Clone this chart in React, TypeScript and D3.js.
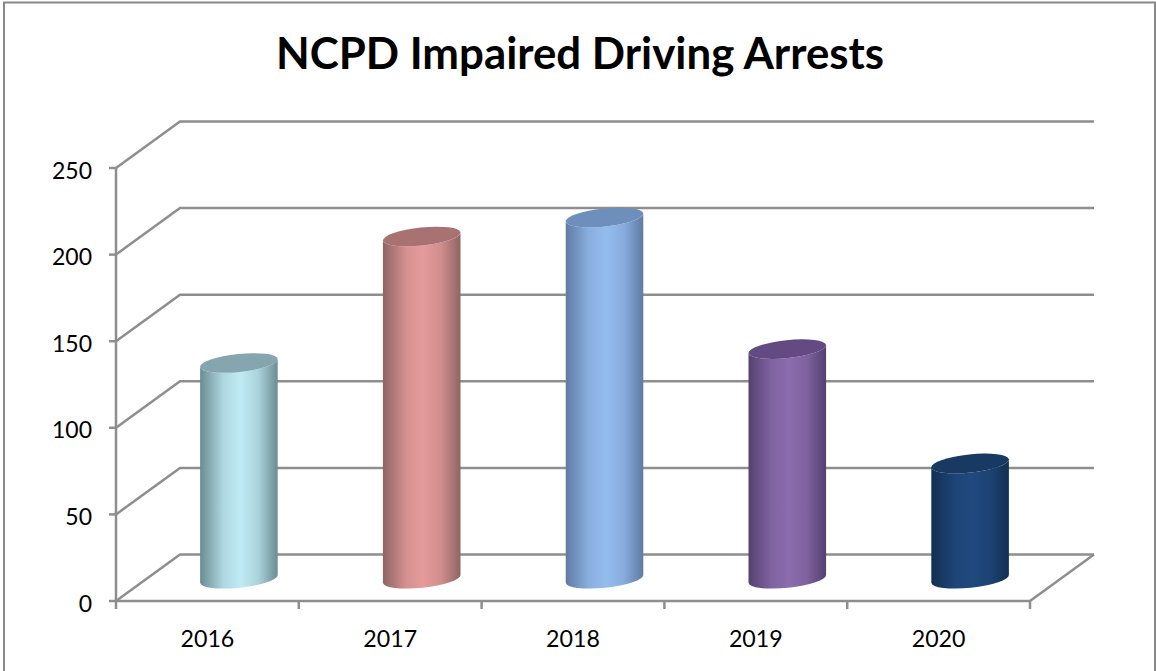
import React from "react";
import * as d3 from "d3";

const title = "NCPD Impaired Driving Arrests";
const categories = ["2016", "2017", "2018", "2019", "2020"];
const arrests = [124, 197, 208, 132, 66];
const yTicks = [0, 50, 100, 150, 200, 250];
const bodyEdge = ["#6b8c93", "#8f6464", "#5f7ba3", "#55406f", "#132f52"];
const bodyLight = ["#c0ebf4", "#e69b9b", "#94bcef", "#8b6cae", "#20497f"];
const capFill = ["#85a6ae", "#a87272", "#6e8fbc", "#634a82", "#183a62"];

const W = 1156, H = 671;
const frontL = 116, frontR = 1030, base = 601, top = 168;
const depthX = 64, depthY = 46.5;
const GRID = "#8e8e8e";
const FONT = "Lato, 'Noto Sans', sans-serif";

const x = d3.scaleBand<string>().domain(categories).range([frontL, frontR]);
const y = d3.scaleLinear().domain([0, 250]).range([base, top]);

const rx = 39, ry = 9, tilt = 6;
const dxE = rx * Math.cos((tilt * Math.PI) / 180);
const dyE = rx * Math.sin((tilt * Math.PI) / 180);

export default function App() {
  return (
    <svg width={W} height={H} viewBox={`0 0 ${W} ${H}`} style={{ position: "fixed", left: 0, top: 0, background: "#fff" }}>
      <defs>
        {categories.map((c, i) => (
          <linearGradient key={c} id={`g${i}`} x1="0" x2="1" y1="0" y2="0">
            <stop offset="0" stopColor={bodyEdge[i]} />
            <stop offset="0.3" stopColor={d3.interpolateRgb(bodyEdge[i], bodyLight[i])(0.8)} />
            <stop offset="0.52" stopColor={bodyLight[i]} />
            <stop offset="0.75" stopColor={d3.interpolateRgb(bodyEdge[i], bodyLight[i])(0.75)} />
            <stop offset="1" stopColor={bodyEdge[i]} />
          </linearGradient>
        ))}
      </defs>
      <path d={`M4,${H} V2.5 H1155 V${H}`} fill="none" stroke="#888" strokeWidth={2} />
      <text x={580} y={69} textAnchor="middle" fontFamily={FONT} fontWeight={700} fontSize={43.8} fill="#000">{title}</text>

      {yTicks.map((t) => (
        <g key={t}>
          <path d={`M${frontL},${y(t)} L${frontL + depthX},${y(t) - depthY} H${frontR + depthX}`} fill="none" stroke={GRID} strokeWidth={2.5} />
          <line x1={frontL - 7} x2={frontL} y1={y(t)} y2={y(t)} stroke={GRID} strokeWidth={2.5} />
          <text x={92} y={y(t) + 10.5} textAnchor="end" fontFamily={FONT} fontSize={23} fill="#000">{t}</text>
        </g>
      ))}
      <line x1={frontL} x2={frontL} y1={y(250)} y2={y(0)} stroke={GRID} strokeWidth={2.5} />
      <line x1={frontL} x2={frontR} y1={y(0)} y2={y(0)} stroke={GRID} strokeWidth={2.5} />
      <line x1={frontR} x2={frontR + depthX} y1={y(0)} y2={y(0) - depthY} stroke={GRID} strokeWidth={2.5} />
      {[...categories.map((c) => x(c)!), frontR].map((px) => (
        <line key={px} x1={px} x2={px} y1={y(0)} y2={y(0) + 8} stroke={GRID} strokeWidth={2.5} />
      ))}
      {categories.map((c) => (
        <text key={c} x={x(c)! + x.bandwidth() / 2} y={647} textAnchor="middle" fontFamily={FONT} fontSize={23.2} fill="#000">{c}</text>
      ))}

      {categories.map((c, i) => {
        const cx = x(c)! + x.bandwidth() / 2 + 31.5;
        const yb = y(0) - depthY / 2 + 1;
        const yt = y(arrests[i]) - depthY / 2;
        const body = `M${cx - dxE},${yt + dyE} L${cx - dxE},${yb + dyE} A${rx},${ry} ${-tilt} 0 0 ${cx + dxE},${yb - dyE} L${cx + dxE},${yt - dyE} A${rx},${ry} ${-tilt} 0 1 ${cx - dxE},${yt + dyE} Z`;
        return (
          <g key={c}>
            <path d={body} fill={`url(#g${i})`} />
            <ellipse cx={cx} cy={yt} rx={rx} ry={ry} transform={`rotate(${-tilt} ${cx} ${yt})`} fill={capFill[i]} />
          </g>
        );
      })}
    </svg>
  );
}
